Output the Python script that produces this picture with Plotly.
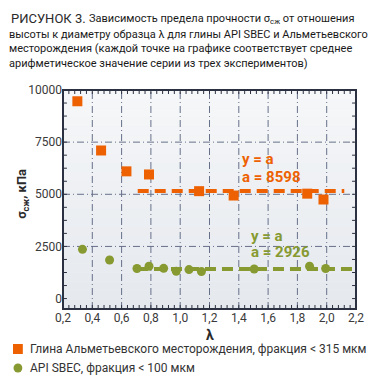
import plotly.graph_objects as go

# --- data ---
clay_x = [0.298, 0.46, 0.633, 0.787, 1.129, 1.365, 1.867, 1.978]
clay_y = [9460, 7100, 6100, 5950, 5150, 4940, 5030, 4750]

api_x = [0.333, 0.518, 0.705, 0.787, 0.887, 0.973, 1.06, 1.145, 1.505, 1.883, 1.993]
api_y = [2360, 1850, 1440, 1550, 1450, 1310, 1390, 1295, 1420, 1550, 1440]

clay_fit_x = [0.71, 2.12]
clay_fit_y = [5160, 5160]
api_fit_x = [0.705, 2.18]
api_fit_y = [1420, 1420]

x_range = [0.2, 2.2]
x_step = 0.2
y_range = [-500, 10000]
y_step = 2500

title_lines = [
    "Зависимость предела прочности σ<sub>сж</sub> от отношения",
    "высоты к диаметру образца λ для глины API SBEC и Альметьевского",
    "месторождения (каждой точке на графике соответствует среднее",
    "арифметическое значение серии из трех экспериментов)",
]
legend_labels = ["Глина Альметьевского месторождения, фракция < 315 мкм",
                 "API SBEC, фракция < 100 мкм"]

ORANGE = "#ee6102"
GREEN = "#879a31"
FRAME = "#2b3140"
GRID = "#66708a"
FONT = "Roboto, Liberation Sans, sans-serif"

PLOT_W, PLOT_H = 299, 219


def py(px):
    return (309 - px) / PLOT_H


def pxx(px):
    return (px - 63) / PLOT_W


fig = go.Figure()

fig.add_trace(go.Scatter(x=clay_fit_x, y=clay_fit_y, mode="lines",
                         line=dict(color=ORANGE, width=4, dash="11px,6px"),
                         showlegend=False, hoverinfo="skip"))
fig.add_trace(go.Scatter(x=api_fit_x, y=api_fit_y, mode="lines",
                         line=dict(color=GREEN, width=4, dash="11px,6px"),
                         showlegend=False, hoverinfo="skip"))
fig.add_trace(go.Scatter(x=clay_x, y=clay_y, mode="markers",
                         marker=dict(symbol="square", size=10, color=ORANGE),
                         showlegend=False))
fig.add_trace(go.Scatter(x=api_x, y=api_y, mode="markers",
                         marker=dict(symbol="circle", size=9, color=GREEN),
                         showlegend=False))

# --- background gradient bands ---
n = 24
top = (245, 247, 249)
bot = (229, 232, 237)
for i in range(n):
    t = i / (n - 1)
    c = tuple(round(top[k] + (bot[k] - top[k]) * t) for k in range(3))
    fig.add_shape(type="rect", xref="x domain", yref="y domain",
                  x0=0, x1=1, y0=1 - (i + 1) / n, y1=1 - i / n,
                  fillcolor="rgb(%d,%d,%d)" % c, line=dict(width=0), layer="below")

# --- grid (dash-dot) from axis steps ---
nx = round((x_range[1] - x_range[0]) / x_step)
for i in range(1, nx):
    xv = x_range[0] + i * x_step
    fig.add_shape(type="line", xref="x", yref="y domain", x0=xv, x1=xv, y0=0, y1=1,
                  line=dict(color=GRID, width=1, dash="7px,3px,1px,3px"), layer="below")
ny = int(y_range[1] // y_step)
for i in range(1, ny):
    yv = i * y_step
    fig.add_shape(type="line", xref="x domain", yref="y", x0=0, x1=1, y0=yv, y1=yv,
                  line=dict(color=GRID, width=1, dash="7px,3px,1px,3px"), layer="below")

# --- ticks (inside, on all four sides) ---
tl_y = 4 / PLOT_H
tl_x = 4 / PLOT_W
xminor = x_step / 5
xt = [x_range[0] + i * xminor for i in range(nx * 5 + 1)]
p = ""
for xv in xt[1:-1]:
    p += "M%.4f,0L%.4f,%.4f" % (xv, xv, tl_y)
    p += "M%.4f,1L%.4f,%.4f" % (xv, xv, 1 - tl_y)
fig.add_shape(type="path", xref="x", yref="y domain", path=p,
              line=dict(color=FRAME, width=1), layer="above")
yminor = y_step / 4
yt = [i * yminor for i in range(int(y_range[1] // yminor) + 1)]
p = ""
for yv in yt[:-1]:
    p += "M0,%.1fL%.4f,%.1f" % (yv, tl_x, yv)
    p += "M1,%.1fL%.4f,%.1f" % (yv, 1 - tl_x, yv)
fig.add_shape(type="path", xref="x domain", yref="y", path=p,
              line=dict(color=FRAME, width=1), layer="above")

# --- frame ---
fig.add_shape(type="rect", xref="x domain", yref="y domain", x0=0, x1=1, y0=0, y1=1,
              line=dict(color=FRAME, width=2), fillcolor="rgba(0,0,0,0)", layer="above")

annos = []
annos.append(dict(text="РИСУНОК 3.", xref="paper", yref="paper",
                  x=pxx(8), y=py(18.5), xanchor="left", yanchor="middle", showarrow=False,
                  font=dict(family=FONT, size=13, color="#2a2a2a")))
annos.append(dict(text=title_lines[0], xref="paper", yref="paper",
                  x=pxx(87), y=py(18.5), xanchor="left", yanchor="middle", showarrow=False,
                  font=dict(family=FONT, size=11, color="#1a1a1a")))
for i, line in enumerate(title_lines[1:]):
    annos.append(dict(text=line, xref="paper", yref="paper",
                      x=pxx(6), y=py(34 + 14.8 * i), xanchor="left", yanchor="middle",
                      showarrow=False, font=dict(family=FONT, size=11, color="#1a1a1a")))

annos.append(dict(text="<b>y = a</b>", xref="x", yref="y", x=1.41, y=6700,
                  xanchor="left", yanchor="middle", showarrow=False,
                  font=dict(family=FONT, size=15, color=ORANGE)))
annos.append(dict(text="<b>a = 8598</b>", xref="x", yref="y", x=1.41, y=5840,
                  xanchor="left", yanchor="middle", showarrow=False,
                  font=dict(family=FONT, size=15, color=ORANGE)))
annos.append(dict(text="<b>y = a</b>", xref="x", yref="y", x=1.47, y=2990,
                  xanchor="left", yanchor="middle", showarrow=False,
                  font=dict(family=FONT, size=15, color=GREEN)))
annos.append(dict(text="<b>a = 2926</b>", xref="x", yref="y", x=1.47, y=2240,
                  xanchor="left", yanchor="middle", showarrow=False,
                  font=dict(family=FONT, size=15, color=GREEN)))

annos.append(dict(text="<b>σ<sub>сж</sub>, кПа</b>", xref="paper", yref="paper",
                  x=pxx(21), y=py(194), textangle=-90,
                  xanchor="center", yanchor="middle", showarrow=False,
                  font=dict(family=FONT, size=13, color="#2a2a2a")))
annos.append(dict(text="<b>λ</b>", xref="paper", yref="paper",
                  x=0.5, y=py(335), xanchor="center", yanchor="middle",
                  showarrow=False, font=dict(family=FONT, size=14, color="#2a2a2a")))

for i, lab in enumerate(legend_labels):
    annos.append(dict(text=lab, xref="paper", yref="paper",
                      x=pxx(27), y=py(349 + 19 * i), xanchor="left", yanchor="middle",
                      showarrow=False, font=dict(family=FONT, size=12, color="#333333")))

# legend symbols
fig.add_shape(type="rect", xref="paper", yref="paper",
              x0=pxx(12), x1=pxx(22), y0=py(354), y1=py(344),
              fillcolor=ORANGE, line=dict(width=0))
fig.add_shape(type="circle", xref="paper", yref="paper",
              x0=pxx(12.5), x1=pxx(21.5), y0=py(372.5), y1=py(363.5),
              fillcolor=GREEN, line=dict(width=0))

axis_common = dict(showline=False, showgrid=False, zeroline=False, ticks="",
                   tickfont=dict(family=FONT, size=12, color="#3a3a3a"))

fig.update_xaxes(range=x_range, tickmode="linear", tick0=x_range[0], dtick=x_step,
                 tickformat=".1f", **axis_common)
fig.update_yaxes(range=y_range, tickmode="linear", tick0=0, dtick=y_step,
                 tickformat="d", **axis_common)

fig.update_layout(width=376, height=381, margin=dict(l=63, r=14, t=90, b=72),
                  paper_bgcolor="white", plot_bgcolor="#eef0f3",
                  separators=", ", annotations=annos, showlegend=False)

fig.write_html("out.html", config={"displayModeBar": False},
               post_script="document.body.style.margin='0';document.body.style.padding='0';")
